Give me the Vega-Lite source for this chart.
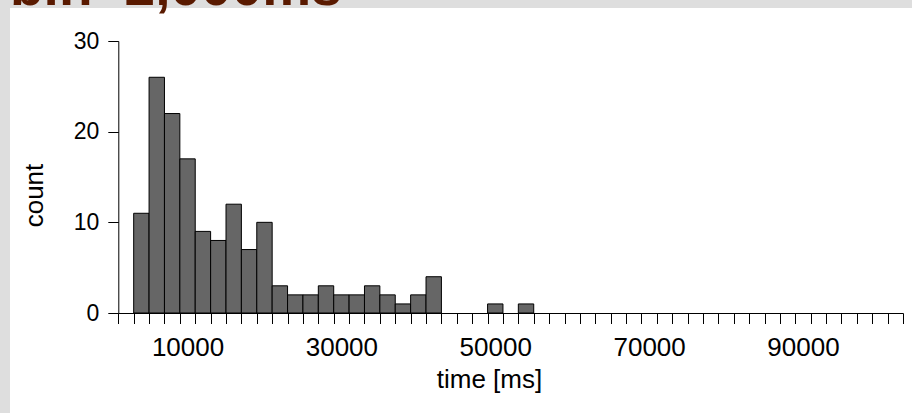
{
  "$schema": "https://vega.github.io/schema/vega-lite/v6.json",
  "width": 902,
  "height": 405,
  "autosize": {"type": "none"},
  "padding": {"left": 10, "top": 8, "right": 0, "bottom": 0},
  "background": "#dedede",
  "view": {"fill": "white", "stroke": null},
  "title": {
    "text": "bin=2,000ms",
    "anchor": "start",
    "frame": "group",
    "font": "Liberation Sans",
    "fontSize": 55,
    "fontWeight": "bold",
    "color": "#5a1a00",
    "baseline": "alphabetic",
    "offset": 0,
    "dy": 52
  },
  "data": {
    "values": [
      {"start": 3000, "end": 5000, "count": 11},
      {"start": 5000, "end": 7000, "count": 26},
      {"start": 7000, "end": 9000, "count": 22},
      {"start": 9000, "end": 11000, "count": 17},
      {"start": 11000, "end": 13000, "count": 9},
      {"start": 13000, "end": 15000, "count": 8},
      {"start": 15000, "end": 17000, "count": 12},
      {"start": 17000, "end": 19000, "count": 7},
      {"start": 19000, "end": 21000, "count": 10},
      {"start": 21000, "end": 23000, "count": 3},
      {"start": 23000, "end": 25000, "count": 2},
      {"start": 25000, "end": 27000, "count": 2},
      {"start": 27000, "end": 29000, "count": 3},
      {"start": 29000, "end": 31000, "count": 2},
      {"start": 31000, "end": 33000, "count": 2},
      {"start": 33000, "end": 35000, "count": 3},
      {"start": 35000, "end": 37000, "count": 2},
      {"start": 37000, "end": 39000, "count": 1},
      {"start": 39000, "end": 41000, "count": 2},
      {"start": 41000, "end": 43000, "count": 4},
      {"start": 49000, "end": 51000, "count": 1},
      {"start": 53000, "end": 55000, "count": 1}
    ]
  },
  "mark": {"type": "rect", "fill": "#666666", "stroke": "#000000", "strokeWidth": 1},
  "encoding": {
    "x": {
      "field": "start",
      "type": "quantitative",
      "scale": {"domain": [1000, 103000], "range": [108.3, 893], "nice": false, "zero": false},
      "axis": {
        "orient": "bottom",
        "offset": -100,
        "values": [1000, 3000, 5000, 7000, 9000, 11000, 13000, 15000, 17000, 19000, 21000, 23000, 25000, 27000, 29000, 31000, 33000, 35000, 37000, 39000, 41000, 43000, 45000, 47000, 49000, 51000, 53000, 55000, 57000, 59000, 61000, 63000, 65000, 67000, 69000, 71000, 73000, 75000, 77000, 79000, 81000, 83000, 85000, 87000, 89000, 91000, 93000, 95000, 97000, 99000, 101000, 103000, 10000, 30000, 50000, 70000, 90000],
        "labelExpr": "datum.value % 20000 == 10000 ? format(datum.value, 'd') : ''",
        "tickOpacity": {"condition": {"test": "datum.value % 2000 == 1000", "value": 1}, "value": 0},
        "grid": false,
        "tickSize": 10.5,
        "tickColor": "#000000",
        "tickWidth": 1,
        "domainColor": "#000000",
        "domainWidth": 1,
        "labelFont": "Liberation Sans",
        "labelFontSize": 26,
        "labelColor": "#000000",
        "labelPadding": 11,
        "labelOverlap": false,
        "labelFlush": false,
        "labelBound": false,
        "title": "time [ms]",
        "titleFont": "Liberation Sans",
        "titleFontSize": 26,
        "titleFontWeight": "normal",
        "titleColor": "#000000",
        "titleX": 479,
        "titleY": 74,
        "titleBaseline": "alphabetic",
        "titleAlign": "center"
      }
    },
    "x2": {"field": "end"},
    "y": {
      "field": "count",
      "type": "quantitative",
      "scale": {"domain": [0, 30], "range": [305, 33], "nice": false},
      "axis": {
        "orient": "left",
        "offset": -108.3,
        "values": [0, 10, 20, 30],
        "grid": false,
        "tickSize": 10.5,
        "tickColor": "#000000",
        "tickWidth": 1,
        "domainColor": "#000000",
        "domainWidth": 1,
        "labelFont": "Liberation Sans",
        "labelFontSize": 23,
        "labelColor": "#000000",
        "labelPadding": 9,
        "labelFlush": false,
        "title": "count",
        "titleFont": "Liberation Sans",
        "titleFontSize": 26,
        "titleFontWeight": "normal",
        "titleColor": "#000000",
        "titleX": -76.3,
        "titleY": 187,
        "titleAngle": -90,
        "titleBaseline": "alphabetic",
        "titleAlign": "center"
      }
    },
    "y2": {"datum": 0}
  }
}
